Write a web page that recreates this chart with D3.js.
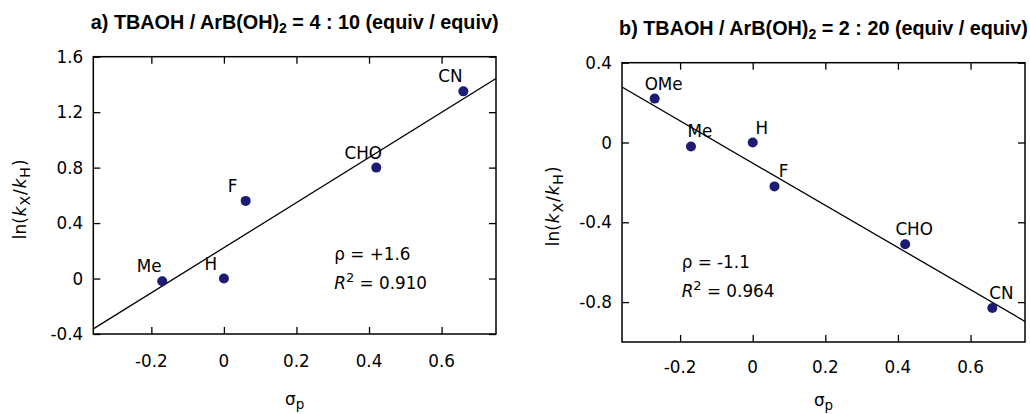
<!DOCTYPE html>
<html><head><meta charset="utf-8">
<script src="https://cdn.jsdelivr.net/npm/d3@7"></script>
<style>
html,body{margin:0;padding:0;background:#fff;}
svg text{font-family:"DejaVu Sans",Verdana,sans-serif;fill:#000;}
</style></head>
<body><svg id="chart" width="1030" height="414"></svg>
<script>
// ---- data ----
const sigmaTicks = [-0.2, 0, 0.2, 0.4, 0.6];
const sigmaDomain = [-0.36, 0.75];

const aLabels = ["Me", "H", "F", "CHO", "CN"];
const aSigma  = [-0.17, 0, 0.06, 0.42, 0.66];
const aLnk    = [-0.02, 0, 0.56, 0.80, 1.35];
const aYTicks = [-0.4, 0, 0.4, 0.8, 1.2, 1.6];
const aYDomain = [-0.4, 1.6];
const aRho = "+1.6", aR2 = "0.910";

const bLabels = ["OMe", "Me", "H", "F", "CHO", "CN"];
const bSigma  = [-0.27, -0.17, 0, 0.06, 0.42, 0.66];
const bLnk    = [0.22, -0.02, 0, -0.22, -0.51, -0.83];
const bYTicks = [-0.8, -0.4, 0, 0.4];
const bYDomain = [-1.0, 0.4];
const bRho = "-1.1", bR2 = "0.964";

const svg = d3.select("#chart");
const dotColor = "#1c1c74";
const fmt = d => String(d);

function fit(xs, ys){
  const mx = d3.mean(xs), my = d3.mean(ys);
  let sxy = 0, sxx = 0;
  xs.forEach((x,i)=>{ sxy += (x-mx)*(ys[i]-my); sxx += (x-mx)*(x-mx); });
  const b = sxy/sxx; return {b, a: my - b*mx};
}

function panel(o){
  const x = d3.scaleLinear().domain(sigmaDomain).range([o.left, o.right]);
  const y = d3.scaleLinear().domain(o.yDomain).range([o.bottom, o.top]);
  const g = svg.append("g");
  const tl = 7;
  const fs = "16.8px";
  // title
  const t = g.append("text").attr("x", (o.left+o.right)/2).attr("y", o.titleY)
    .attr("text-anchor","middle")
    .style("font-family","'Liberation Sans',Arial,sans-serif").style("font-weight","bold").style("font-size","19.8px");
  t.append("tspan").text(o.title1);
  t.append("tspan").attr("baseline-shift","-25%").style("font-size","14px").text("2");
  t.append("tspan").text(o.title2);

  // clip
  const cid = "clip"+o.id;
  svg.append("clipPath").attr("id",cid).append("rect")
    .attr("x",o.left).attr("y",o.top).attr("width",o.right-o.left).attr("height",o.bottom-o.top);

  // axes with inward ticks
  const axB = d3.axisBottom(x).tickValues(sigmaTicks).tickSize(-tl).tickFormat("");
  const axT = d3.axisTop(x).tickValues(sigmaTicks).tickSize(-tl).tickFormat("");
  const axL = d3.axisLeft(y).tickValues(o.yTicks).tickSize(-tl).tickFormat("");
  const axR = d3.axisRight(y).tickValues(o.yTicks).tickSize(-tl).tickFormat("");
  [[axB,`translate(0,${o.bottom})`],[axT,`translate(0,${o.top})`],[axL,`translate(${o.left},0)`],[axR,`translate(${o.right},0)`]]
    .forEach(([ax,tr])=>{
      const a = g.append("g").attr("transform",tr).call(ax);
      a.select(".domain").remove();
      a.selectAll("line").attr("stroke","#000").attr("stroke-width",1.3);
    });
  // tick labels
  g.selectAll(".xt").data(sigmaTicks).enter().append("text")
    .attr("x",d=>x(d)).attr("y",o.bottom+o.xtOff).attr("text-anchor","middle")
    .style("font-size",fs).text(fmt);
  g.selectAll(".yt").data(o.yTicks).enter().append("text")
    .attr("x",o.left-10).attr("y",d=>y(d)).attr("dy","0.36em").attr("text-anchor","end")
    .style("font-size",fs).text(fmt);

  // fit line
  const f = fit(o.xs, o.ys);
  g.append("line").attr("clip-path",`url(#${cid})`)
    .attr("x1",x(sigmaDomain[0])).attr("y1",y(f.a+f.b*sigmaDomain[0]))
    .attr("x2",x(sigmaDomain[1])).attr("y2",y(f.a+f.b*sigmaDomain[1]))
    .attr("stroke","#000").attr("stroke-width",1.3);

  // frame
  g.append("rect").attr("x",o.left).attr("y",o.top).attr("width",o.right-o.left).attr("height",o.bottom-o.top)
    .attr("fill","none").attr("stroke","#000").attr("stroke-width",1.5);

  // points
  g.selectAll(".pt").data(o.xs).enter().append("circle")
    .attr("cx",d=>x(d)).attr("cy",(d,i)=>y(o.ys[i])).attr("r",5).attr("fill",dotColor);
  g.selectAll(".lb").data(o.labels).enter().append("text")
    .attr("x",(d,i)=>x(o.xs[i])+o.ldx).attr("y",(d,i)=>y(o.ys[i])+o.ldy)
    .attr("text-anchor","middle").style("font-size",fs).text(d=>d);

  // rho / R2
  g.append("text").attr("x",o.rhoX).attr("y",o.rhoY).style("font-size",fs).text("ρ = "+o.rho);
  const r = g.append("text").attr("x",o.rhoX).attr("y",o.rhoY+28.5).style("font-size",fs);
  r.append("tspan").style("font-style","italic").text("R");
  r.append("tspan").attr("baseline-shift","super").style("font-size","13px").text("2");
  r.append("tspan").text(" = "+o.r2);

  // x label
  const xl = g.append("text").attr("x",(o.left+o.right)/2).attr("y",o.xlY).attr("text-anchor","middle").style("font-size",fs);
  xl.append("tspan").text("σ");
  xl.append("tspan").attr("baseline-shift","-25%").style("font-size","13.5px").text("p");

  // y label
  const yl = g.append("text").attr("transform",`translate(${o.ylX},${(o.top+o.bottom)/2+4}) rotate(-90)`)
    .attr("text-anchor","middle").style("font-size",fs);
  yl.append("tspan").text("ln(");
  yl.append("tspan").style("font-style","italic").attr("dx",1).text("k");
  yl.append("tspan").attr("baseline-shift","-25%").attr("dx",1).style("font-size","14px").text("X");
  yl.append("tspan").attr("dx",1).text("/");
  yl.append("tspan").style("font-style","italic").attr("dx",1).text("k");
  yl.append("tspan").attr("baseline-shift","-25%").attr("dx",1).style("font-size","14px").text("H");
  yl.append("tspan").attr("dx",1).text(")");
}

panel({id:"a", left:93.3, right:496, top:56.7, bottom:334, yDomain:aYDomain, yTicks:aYTicks,
  xs:aSigma, ys:aLnk, labels:aLabels, ldx:-13, ldy:-9,
  title1:"a) TBAOH / ArB(OH)", title2:" = 4 : 10 (equiv / equiv)", titleY:29.3,
  rho:aRho, r2:aR2, rhoX:334.3, rhoY:260, xtOff:32.7, xlY:405, ylX:26});
panel({id:"b", left:622, right:1025, top:62.7, bottom:342, yDomain:bYDomain, yTicks:bYTicks,
  xs:bSigma, ys:bLnk, labels:bLabels, ldx:9, ldy:-9,
  title1:"b) TBAOH / ArB(OH)", title2:" = 2 : 20 (equiv / equiv)", titleY:35,
  rho:bRho, r2:bR2, rhoX:681.7, rhoY:268.3, xtOff:30.7, xlY:406, ylX:559.3});
</script></body></html>
